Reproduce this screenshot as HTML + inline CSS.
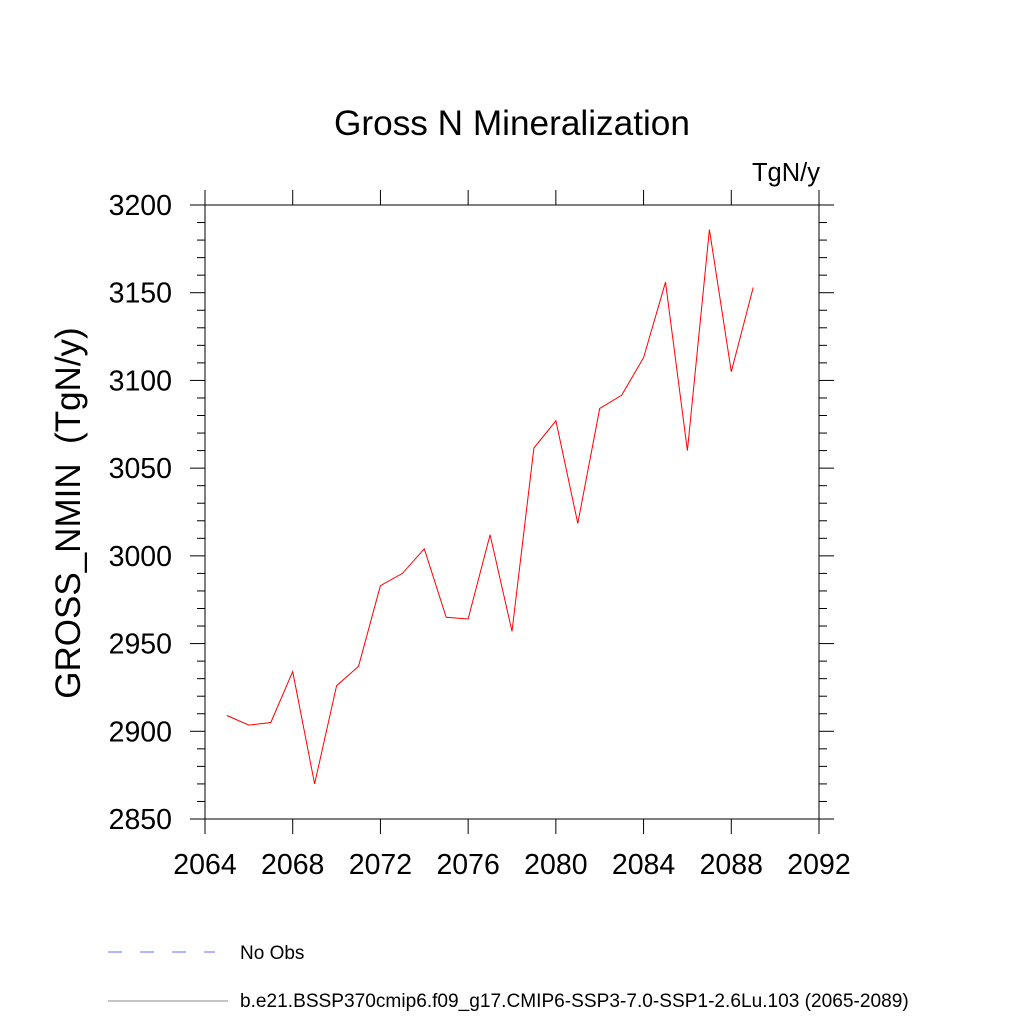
<!DOCTYPE html>
<html><head><meta charset="utf-8"><style>
body{margin:0;background:#fff;}
svg{display:block;font-family:"Liberation Sans",sans-serif;}
</style></head><body>
<svg id="chart" width="1024" height="1024">
<text x="512" y="135" font-size="35.2" text-anchor="middle">Gross N Mineralization</text>
<text x="820" y="181" font-size="25.5" text-anchor="end">TgN/y</text>
<text transform="translate(80,513) rotate(-90)" font-size="35" text-anchor="middle" style="white-space:pre">GROSS_NMIN&#160;&#160;(TgN/y)</text>
<g id="axes"></g>
<g id="series"></g>
<line x1="108" y1="952" x2="215" y2="952" stroke="#6a6aff" stroke-width="1" stroke-dasharray="14,18"/>
<text x="240" y="959" font-size="19">No Obs</text>
<line x1="108" y1="1001" x2="228" y2="1001" stroke="#888" stroke-width="1"/>
<text x="240" y="1007" font-size="19.1">b.e21.BSSP370cmip6.f09_g17.CMIP6-SSP3-7.0-SSP1-2.6Lu.103 (2065-2089)</text>
</svg>
<script>
const years=[2065,2066,2067,2068,2069,2070,2071,2072,2073,2074,2075,2076,2077,2078,2079,2080,2081,2082,2083,2084,2085,2086,2087,2088,2089];
const values=[2909,2903.5,2905,2934,2870,2926,2937,2983,2990,3004,2965,2964,3012,2957,3061.5,3077,3018.5,3084,3091.5,3113,3156,3060,3186,3105,3153];
const xTicks=[2064,2068,2072,2076,2080,2084,2088,2092];
const yTicks=[2850,2900,2950,3000,3050,3100,3150,3200];
const L=205,R=819,T=205,B=819;
const xs=v=>L+(v-2064)/(2092-2064)*(R-L);
const ys=v=>B-(v-2850)/(3200-2850)*(B-T);
const NS="http://www.w3.org/2000/svg";
const ax=document.getElementById('axes');
function mk(tag,at,parent){const e=document.createElementNS(NS,tag);for(const k in at)e.setAttribute(k,at[k]);parent.appendChild(e);return e;}
const fr=mk('rect',{x:L,y:T,width:R-L,height:B-T,fill:'none',stroke:'#000','stroke-width':1},ax);


xTicks.forEach(t=>{const x=xs(t);
 mk('line',{x1:x,y1:B,x2:x,y2:B+15,stroke:'#000'},ax);
 mk('line',{x1:x,y1:T,x2:x,y2:T-15,stroke:'#000'},ax);
 const tx=mk('text',{x:x,y:B+55,'font-size':28.5,'text-anchor':'middle'},ax);tx.textContent=t;
 
 
});
for(let v=2850;v<=3200;v+=10){const y=ys(v);const major=(v%50===0);const len=major?15:8;
 mk('line',{x1:L,y1:y,x2:L-len,y2:y,stroke:'#000'},ax);
 mk('line',{x1:R,y1:y,x2:R+len,y2:y,stroke:'#000'},ax);}
yTicks.forEach(t=>{const tx=mk('text',{x:L-33,y:ys(t)+10,'font-size':28.5,'text-anchor':'end'},ax);tx.textContent=t;
 
 
});
const pts=years.map((y,i)=>xs(y).toFixed(1)+','+ys(values[i]).toFixed(1)).join(' ');
const pl=mk('polyline',{points:pts,fill:'none',stroke:'#ff0000','stroke-width':1},document.getElementById('series'));


</script>
</body></html>
